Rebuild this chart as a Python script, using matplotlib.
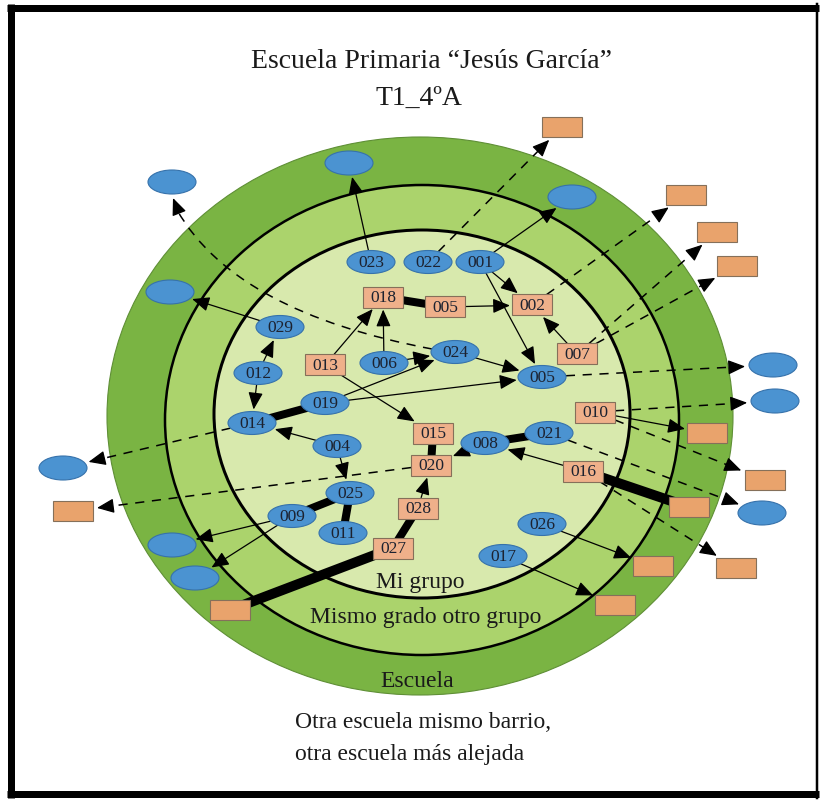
import numpy as np
import matplotlib
matplotlib.use("Agg")
import matplotlib.pyplot as plt
from matplotlib.patches import Ellipse, Rectangle, PathPatch
from matplotlib.path import Path

# ---- data ----
title = "Escuela Primaria \u201cJes\u00fas Garc\u00eda\u201d"
subtitle = "T1_4\u00baA"
ring_names = ["Mi grupo", "Mismo grado otro grupo", "Escuela"]
outside_lines = ["Otra escuela mismo barrio,", "otra escuela m\u00e1s alejada"]

# boys (blue ellipses) inside "Mi grupo"
boy_ids = ["023", "022", "001", "029", "012", "006", "024", "005", "019", "014",
           "004", "008", "021", "025", "009", "011", "026", "017"]
boy_xy = [(371, 262), (428, 262), (480, 262), (280, 327), (258, 373), (384, 363),
          (455, 352), (542, 377), (325, 403), (252, 423), (337, 446), (485, 443),
          (549, 433), (350, 493), (292, 516), (343, 533), (542, 524), (503, 556)]

# girls (orange boxes) inside "Mi grupo"
girl_ids = ["018", "005", "002", "013", "007", "010", "015", "020", "016", "028", "027"]
girl_xy = [(383, 297), (445, 307), (532, 305), (325, 365), (577, 354), (595, 412),
           (433, 433), (431, 465), (583, 471), (418, 508), (393, 548)]

# unnamed friends in the outer rings / outside the school
out_boy_xy = [(349, 163), (172, 182), (572, 197), (170, 292), (773, 365),
              (775, 401), (762, 513), (63, 468), (172, 545), (195, 578)]
out_girl_xy = [(562, 127), (686, 195), (717, 232), (737, 266), (707, 433),
               (765, 480), (689, 507), (736, 568), (653, 566), (615, 605),
               (73, 511), (230, 610)]

# choices: B = boy, G = girl, OB/OG = outer friends (1-based)
solid_links = [("B023", "OB1"), ("B001", "OB3"), ("B001", "G002"), ("B001", "B005"),
               ("G005", "G002"), ("G007", "G002"), ("G013", "G018"), ("B006", "G018"),
               ("B006", "B024"), ("B024", "B005"), ("B019", "B024"), ("B019", "B005"),
               ("G013", "G015"), ("B012", "B029"), ("B012", "B014"), ("B029", "OB4"),
               ("B004", "B014"), ("B004", "B025"), ("B008", "G020"), ("G016", "B008"),
               ("G028", "G020"), ("B009", "OB9"), ("B009", "OB10"), ("G010", "OG5"),
               ("B026", "OG9"), ("B017", "OG10")]
mutual_links = [("G018", "G005"), ("B014", "B019"), ("B008", "B021"), ("G015", "G020"),
                ("B025", "B009"), ("B025", "B011"), ("G027", "G028")]
mutual_far = [("G027", "OG12"), ("G016", "OG7")]
dashed_links = [("B022", "OG1"), ("G002", "OG2"), ("G007", "OG3"), ("G007", "OG4"),
                ("B005", "OB5"), ("G010", "OB6"), ("G010", "OG6"), ("B021", "OB7"),
                ("G016", "OG8"), ("B014", "OB8"), ("G020", "OG11")]

# ---- figure ----
fig = plt.figure(figsize=(8.22, 8.05), dpi=100)
ax = fig.add_axes([0, 0, 1, 1])
ax.set_xlim(0, 822)
ax.set_ylim(805, 0)
ax.axis("off")
PX = 0.72  # points per pixel
serif = ["Liberation Serif", "DejaVu Serif"]

# frame
ax.plot([11, 11], [4, 798], color="black", lw=7 * PX, solid_capstyle="butt")
ax.plot([7, 819], [8, 8], color="black", lw=7 * PX, solid_capstyle="butt")
ax.plot([7, 819], [794, 794], color="black", lw=7 * PX, solid_capstyle="butt")
ax.plot([817, 817], [4, 798], color="black", lw=2.5 * PX)

# rings
ax.add_patch(Ellipse((420, 416), 626, 558, fc="#7ab443", ec="#5f8f36", lw=0.8, zorder=1))
ax.add_patch(Ellipse((422, 420), 514, 470, fc="#abd36c", ec="black", lw=2.5 * PX, zorder=2))
ax.add_patch(Ellipse((422, 414), 416, 368, fc="#d8e9ad", ec="black", lw=3 * PX, zorder=3))

nodes = {}
for lab, (x, y) in zip(boy_ids, boy_xy):
    nodes["B" + lab] = (x, y, "e", 48, 23, lab)
for lab, (x, y) in zip(girl_ids, girl_xy):
    nodes["G" + lab] = (x, y, "r", 40, 21, lab)
for i, (x, y) in enumerate(out_boy_xy):
    nodes["OB%d" % (i + 1)] = (x, y, "e", 48, 24, "")
for i, (x, y) in enumerate(out_girl_xy):
    nodes["OG%d" % (i + 1)] = (x, y, "r", 40, 20, "")


def edge_point(key, tx, ty, pad=0.0):
    x, y, shape, w, h, _ = nodes[key]
    dx, dy = tx - x, ty - y
    L = np.hypot(dx, dy)
    if shape == "e":
        t = 1 / np.sqrt((dx / (w / 2)) ** 2 + (dy / (h / 2)) ** 2)
    else:
        t = min((w / 2) / abs(dx) if dx else np.inf, (h / 2) / abs(dy) if dy else np.inf)
    return x + t * dx + pad * dx / L, y + t * dy + pad * dy / L


head = dict(arrowstyle="-|>,head_length=0.75,head_width=0.32", mutation_scale=14,
            color="black", lw=0.9, shrinkA=0, shrinkB=0)

for a, b in solid_links:
    xa, ya = nodes[a][:2]
    xb, yb = nodes[b][:2]
    p0 = edge_point(a, xb, yb)
    p1 = edge_point(b, xa, ya, pad=2)
    ax.annotate("", xy=p1, xytext=p0, arrowprops=head, zorder=5)

for a, b in dashed_links:
    xa, ya = nodes[a][:2]
    xb, yb = nodes[b][:2]
    p0 = np.array(edge_point(a, xb, yb))
    p1 = np.array(edge_point(b, xa, ya, pad=4))
    u = (p1 - p0) / np.hypot(*(p1 - p0))
    q = p1 - 10 * u
    ax.plot([p0[0], q[0]], [p0[1], q[1]], color="black", lw=1.1,
            ls=(0, (6, 5)), zorder=4)
    ax.annotate("", xy=p1, xytext=p1 - 14 * u, arrowprops=head, zorder=5)

# curved dashed choice 024 -> far boy
curve = Path([(432, 349), (235, 312), (177, 210)], [Path.MOVETO, Path.CURVE3, Path.CURVE3])
ax.add_patch(PathPatch(curve, fill=False, ec="black", lw=1.1, ls=(0, (6, 5)), zorder=4))
ax.annotate("", xy=(173, 198), xytext=(179, 213), arrowprops=head, zorder=5)

for a, b in mutual_links:
    xa, ya = nodes[a][:2]
    xb, yb = nodes[b][:2]
    ax.plot([xa, xb], [ya, yb], color="black", lw=8 * PX, solid_capstyle="butt", zorder=5)
for a, b in mutual_far:
    xa, ya = nodes[a][:2]
    xb, yb = nodes[b][:2]
    ax.plot([xa, xb], [ya, yb], color="black", lw=10 * PX, solid_capstyle="butt", zorder=5)

for key, (x, y, shape, w, h, lab) in nodes.items():
    if shape == "e":
        ax.add_patch(Ellipse((x, y), w, h, fc="#4b93d1", ec="#3672ab", lw=0.8, zorder=6))
    else:
        fc = "#efb08a" if lab else "#e9a36c"
        ax.add_patch(Rectangle((x - w / 2, y - h / 2), w, h, fc=fc, ec="#85705a",
                               lw=0.8, zorder=6))
    if lab:
        ax.text(x, y + 1, lab, ha="center", va="center", fontsize=12.5,
                color="#1c2230", family=serif, zorder=7)

# titles and ring names
ax.text(431, 68, title, ha="center", va="baseline", fontsize=20, family=serif, color="#1a1a1a")
ax.text(419, 105, subtitle, ha="center", va="baseline", fontsize=20, family=serif, color="#1a1a1a")
ax.text(420, 588, ring_names[0], ha="center", va="baseline", fontsize=17, family=serif, color="#1a1a1a", zorder=8)
ax.text(426, 623, ring_names[1], ha="center", va="baseline", fontsize=17, family=serif, color="#1a1a1a", zorder=8)
ax.text(417, 687, ring_names[2], ha="center", va="baseline", fontsize=17, family=serif, color="#1a1a1a", zorder=8)
ax.text(295, 728, outside_lines[0], ha="left", va="baseline", fontsize=17, family=serif, color="#1a1a1a")
ax.text(295, 760, outside_lines[1], ha="left", va="baseline", fontsize=17, family=serif, color="#1a1a1a")

fig.savefig("out.png", dpi=100)
